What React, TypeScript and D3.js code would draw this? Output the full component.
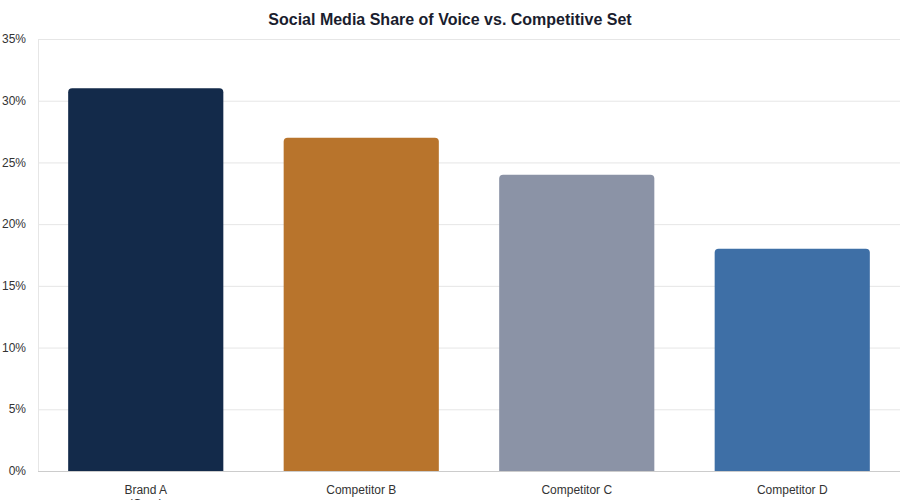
import React, { useEffect, useRef } from "react";
import * as d3 from "d3";

const categories = ["Brand A (Ours)", "Competitor B", "Competitor C", "Competitor D"];
const shareOfVoice = [31, 27, 24, 18];
const barColors = ["#132a4a", "#b8742c", "#8b93a6", "#3e6fa6"];
const yTicks = [0, 5, 10, 15, 20, 25, 30, 35];
const title = "Social Media Share of Voice vs. Competitive Set";

const W = 900;
const H = 500;
const margin = { top: 39, right: 0, bottom: 29, left: 38 };

export default function App() {
  const ref = useRef<SVGSVGElement | null>(null);

  useEffect(() => {
    document.body.style.margin = "0";
    const svg = d3.select(ref.current);
    svg.selectAll("*").remove();
    const font = "'Liberation Sans', Arial, Helvetica, sans-serif";

    const x = d3
      .scaleBand<string>()
      .domain(categories)
      .range([margin.left, W - margin.right])
      .paddingInner(0.28)
      .paddingOuter(0.14);
    const y = d3.scaleLinear().domain([0, 35]).range([H - margin.bottom, margin.top]);

    svg
      .append("text")
      .attr("x", W / 2)
      .attr("y", 25)
      .attr("text-anchor", "middle")
      .attr("font-family", font)
      .attr("font-size", 16)
      .attr("font-weight", "bold")
      .attr("fill", "#1a1d2e")
      .text(title);

    // gridlines
    svg
      .append("g")
      .selectAll("line")
      .data(yTicks.filter((t) => t > 0))
      .join("line")
      .attr("x1", margin.left)
      .attr("x2", W - margin.right)
      .attr("y1", (d) => y(d) + 0.5)
      .attr("y2", (d) => y(d) + 0.5)
      .attr("stroke", "#e6e6e6")
      .attr("stroke-width", 1);

    // y axis line
    svg
      .append("line")
      .attr("x1", margin.left + 0.5)
      .attr("x2", margin.left + 0.5)
      .attr("y1", y(35))
      .attr("y2", y(0))
      .attr("stroke", "#e6e6e6");

    // y tick labels
    svg
      .append("g")
      .selectAll("text")
      .data(yTicks)
      .join("text")
      .attr("x", 26)
      .attr("y", (d) => y(d))
      .attr("dy", "0.35em")
      .attr("text-anchor", "end")
      .attr("font-family", font)
      .attr("font-size", 12)
      .attr("fill", "#333")
      .text((d) => `${d}%`);

    // bars with rounded tops
    const r = 4;
    svg
      .append("g")
      .selectAll("path")
      .data(categories)
      .join("path")
      .attr("d", (c, i) => {
        const x0 = x(c)!;
        const w = x.bandwidth();
        const y0 = y(shareOfVoice[i]);
        const yb = y(0);
        return `M${x0},${yb} L${x0},${y0 + r} Q${x0},${y0} ${x0 + r},${y0} L${x0 + w - r},${y0} Q${x0 + w},${y0} ${x0 + w},${y0 + r} L${x0 + w},${yb} Z`;
      })
      .attr("fill", (_, i) => barColors[i]);

    // x axis line
    svg
      .append("line")
      .attr("x1", margin.left)
      .attr("x2", W - margin.right)
      .attr("y1", y(0) + 0.5)
      .attr("y2", y(0) + 0.5)
      .attr("stroke", "#cccccc");

    // x labels (wrapped)
    const lg = svg.append("g");
    categories.forEach((c) => {
      const cx = x(c)! + x.bandwidth() / 2;
      const lines = c.startsWith("Brand") ? ["Brand A", "(Ours)"] : [c];
      const t = lg
        .append("text")
        .attr("x", cx)
        .attr("y", 494)
        .attr("text-anchor", "middle")
        .attr("font-family", font)
        .attr("font-size", 12)
        .attr("fill", "#333");
      lines.forEach((ln, k) => {
        t.append("tspan").attr("x", cx).attr("dy", k === 0 ? 0 : 14).text(ln);
      });
    });
  }, []);

  return (
    <svg
      ref={ref}
      width={W}
      height={H}
      style={{ position: "absolute", left: 0, top: 0, background: "#fff" }}
    />
  );
}
